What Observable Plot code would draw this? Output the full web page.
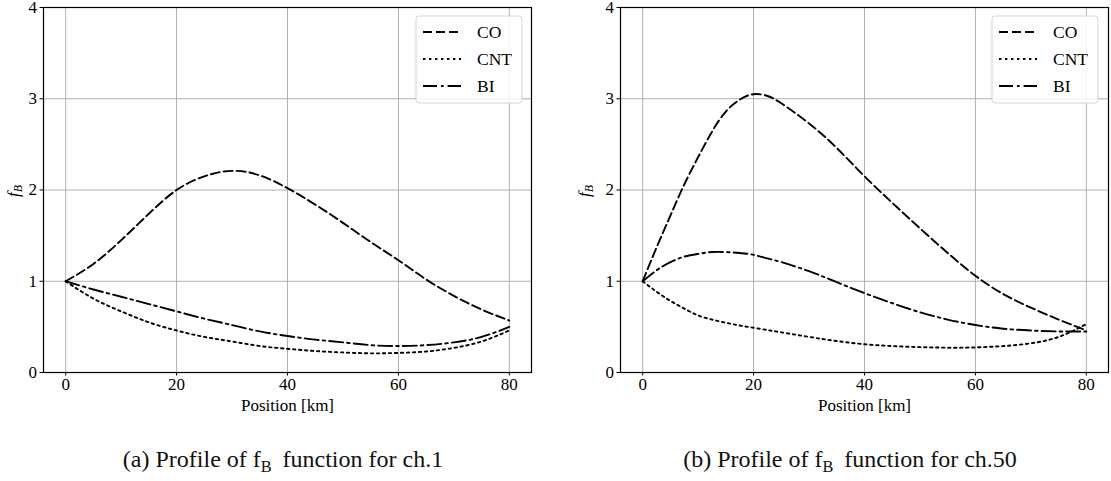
<!DOCTYPE html>
<html>
<head>
<meta charset="utf-8">
<script src="https://cdn.jsdelivr.net/npm/d3@7"></script>
<script src="https://cdn.jsdelivr.net/npm/@observablehq/plot@0.6"></script>
<style>
  html, body { margin: 0; padding: 0; background: white; }
  #wrap { position: relative; width: 1111px; height: 481px; overflow: hidden; font-family: "Liberation Serif", "Times New Roman", "DejaVu Serif", serif; }
  #wrap svg text, #wrap svg tspan { font-family: "Liberation Serif", "Times New Roman", "DejaVu Serif", serif !important; }
  .panel { position: absolute; top: 0; }
  .cap { position: absolute; top: 447px; width: 500px; text-align: center; font-size: 24px; line-height: 24px; white-space: nowrap; color: #111; font-family: "Liberation Serif", "Times New Roman", "DejaVu Serif", serif; }
  .cap sub { font-size: 0.68em; vertical-align: baseline; position: relative; top: 0.3em; }
</style>
</head>
<body>
<div id="wrap">
  <div class="panel" id="pa" style="left:0px"></div>
  <div class="panel" id="pb" style="left:555px"></div>
  <div class="cap" style="left:33px">(a) Profile of f<sub>B</sub>&#8201; function for ch.1</div>
  <div class="cap" style="left:600px">(b) Profile of f<sub>B</sub>&#8201; function for ch.50</div>
</div>
<script>
// ---------- data ----------
const seriesNames = ["CO", "CNT", "BI"];
const xTicks = [0, 20, 40, 60, 80];
const yTicks = [0, 1, 2, 3, 4];
const xLabel = "Position [km]";

// panel (a): ch.1
const posA = [0, 5, 10, 15, 20, 25, 30, 35, 40, 45, 50, 55, 60, 65, 70, 75, 80];
const coA  = [1.00, 1.19, 1.45, 1.74, 2.00, 2.15, 2.21, 2.16, 2.02, 1.84, 1.64, 1.43, 1.23, 1.02, 0.84, 0.69, 0.57];
const cntA = [1.00, 0.81, 0.67, 0.55, 0.46, 0.39, 0.34, 0.29, 0.26, 0.235, 0.22, 0.21, 0.215, 0.23, 0.27, 0.34, 0.46];
const biA  = [1.00, 0.91, 0.83, 0.75, 0.67, 0.59, 0.52, 0.45, 0.40, 0.36, 0.33, 0.30, 0.29, 0.30, 0.33, 0.39, 0.50];

// panel (b): ch.50
const posB = [0, 2.5, 5, 7.5, 10, 12.5, 15, 17.5, 20, 22.5, 25, 30, 35, 40, 45, 50, 55, 60, 65, 70, 75, 80];
const coB  = [1.00, 1.37, 1.72, 2.06, 2.36, 2.64, 2.86, 2.99, 3.05, 3.03, 2.95, 2.73, 2.46, 2.15, 1.86, 1.58, 1.31, 1.06, 0.86, 0.71, 0.58, 0.46];
const cntB = [1.00, 0.885, 0.785, 0.70, 0.625, 0.58, 0.545, 0.515, 0.49, 0.465, 0.44, 0.39, 0.345, 0.31, 0.29, 0.278, 0.272, 0.275, 0.29, 0.32, 0.39, 0.53];
const biB  = [1.00, 1.12, 1.21, 1.27, 1.30, 1.32, 1.32, 1.31, 1.29, 1.25, 1.21, 1.11, 0.99, 0.87, 0.76, 0.66, 0.58, 0.52, 0.48, 0.46, 0.45, 0.45];

// ---------- styles ----------
const FONT = "'Liberation Serif', 'Times New Roman', 'DejaVu Serif', serif";
const dashes = {CO: "9,4", CNT: "2.4,3.6", BI: "14,4,2.6,4"};
const LW = 1.9;

function rows(pos, vals, name) {
  return pos.map((x, i) => ({x, y: vals[i], s: name}));
}

function panel(el, pos, series, cfg) {
  const marks = [
    Plot.gridX(xTicks, {stroke: "#b0b0b0", strokeOpacity: 1, strokeWidth: 1}),
    Plot.gridY(yTicks, {stroke: "#b0b0b0", strokeOpacity: 1, strokeWidth: 1}),
    Plot.axisX(xTicks, {tickSize: 3.5, tickPadding: 2, fontSize: 17, tickFormat: d => String(d),
      label: xLabel, labelAnchor: "center", labelArrow: "none", labelOffset: cfg.labelOffset}),
    Plot.axisY(yTicks, {tickSize: 3.5, tickPadding: 3, fontSize: 17, tickFormat: d => String(d), label: null})
  ];
  seriesNames.forEach((name, i) => {
    marks.push(Plot.line(rows(pos, series[i], name), {
      x: "x", y: "y", stroke: "black", strokeWidth: LW,
      strokeDasharray: dashes[name], curve: "natural"
    }));
  });
  marks.push(Plot.frame({stroke: "black", strokeWidth: 1.2}));

  const chart = Plot.plot({
    width: cfg.width, height: 417,
    marginLeft: cfg.ml, marginRight: cfg.mr, marginTop: 7, marginBottom: 45,
    style: {fontFamily: FONT, fontSize: "17px", color: "black", background: "transparent", overflow: "visible"},
    x: {domain: [-4, 84]},
    y: {domain: [0, 4]},
    marks
  });
  el.appendChild(chart);

  const svg = d3.select(chart);
  svg.selectAll("text").attr("font-family", FONT);
  // y label f_B
  const yl = svg.append("text")
    .attr("transform", `translate(${cfg.ylx},191) rotate(-90)`)
    .attr("text-anchor", "middle")
    .attr("dominant-baseline", "middle")
    .attr("font-family", FONT)
    .attr("font-style", "italic")
    .attr("font-size", 17)
    .attr("fill", "black");
  yl.append("tspan").text("f");
  yl.append("tspan").attr("font-size", 12).attr("dy", 4).text("B");

  // legend
  const lx = cfg.legX, ly = 16;
  const g = svg.append("g").attr("text-anchor", "start");
  g.append("rect").attr("x", lx).attr("y", ly).attr("width", 106).attr("height", 87)
    .attr("rx", 3).attr("fill", "white").attr("fill-opacity", 0.85)
    .attr("stroke", "#d6d6d6").attr("stroke-width", 1);
  seriesNames.forEach((name, i) => {
    const cy = ly + 16 + i * 27;
    g.append("line").attr("x1", lx + 7).attr("x2", lx + 45).attr("y1", cy).attr("y2", cy)
      .attr("stroke", "black").attr("stroke-width", LW).attr("stroke-dasharray", dashes[name]);
    g.append("text").attr("x", lx + 61).attr("y", cy + 6)
      .attr("text-anchor", "start")
      .attr("font-family", FONT).attr("font-size", 17.5).attr("fill", "black")
      .text(name);
  });
}

panel(document.getElementById("pa"), posA, [coA, cntA, biA],
      {width: 555, ml: 43, mr: 24, ylx: 15, legX: 416, labelOffset: 38});
panel(document.getElementById("pb"), posB, [coB, cntB, biB],
      {width: 556, ml: 65, mr: 3, ylx: 31, legX: 437, labelOffset: 38});
</script>
</body>
</html>
